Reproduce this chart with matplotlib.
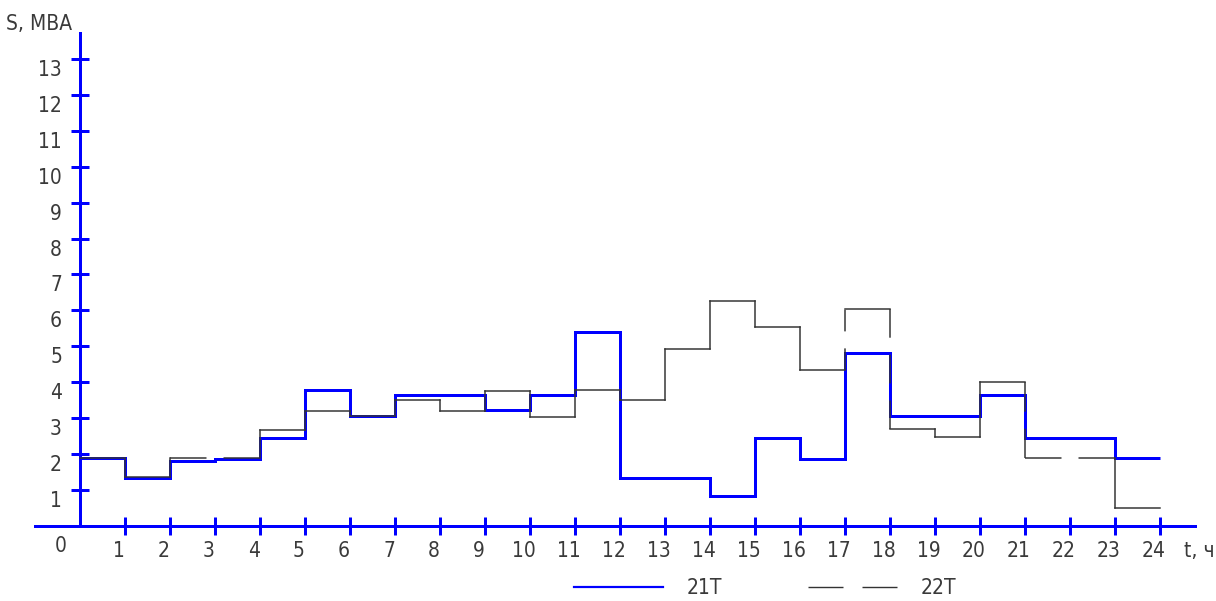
import matplotlib
matplotlib.use('Agg')
import matplotlib.pyplot as plt
from matplotlib.lines import Line2D
from matplotlib.transforms import ScaledTranslation

plt.rcParams['font.family'] = ['DejaVu Sans']
plt.rcParams['font.stretch'] = 'condensed'
plt.rcParams['lines.scale_dashes'] = False

# суточный график нагрузки трансформаторов, S (МВА) по часам
hours = list(range(25))
s_21t = [1.87, 1.33, 1.80, 1.85, 2.44, 3.77, 3.04, 3.63, 3.63, 3.21, 3.63, 5.40,
         1.32, 1.32, 0.82, 2.45, 1.86, 4.82, 3.05, 3.05, 3.63, 2.44, 2.44, 1.87]
s_22t = [1.88, 1.35, 1.88, 1.88, 2.66, 3.18, 3.04, 3.49, 3.18, 3.75, 3.03, 3.77,
         3.49, 4.91, 6.26, 5.53, 4.35, 6.03, 2.68, 2.47, 4.00, 1.87, 1.87, 0.49]
x_ticks = list(range(1, 25))
y_ticks = list(range(1, 14))

BLUE = '#0000ff'
GREY = '#333333'
TEXT = '#3a3a3a'
FS = 15

DPI = 100
W, H = 1216, 601
PT = 72 / DPI          # пиксели -> пункты

fig = plt.figure(figsize=(W / DPI, H / DPI), dpi=DPI)
ax = fig.add_axes([0, 0, 1, 1])
ax.patch.set_visible(False)

# масштаб: начало координат и шаг сетки в пикселях
X0, KX = 80.0, 45.0
Y0, KY = 525.5, 35.86
ax.set_xlim(-X0 / KX, (W - X0) / KX)
ax.set_ylim((Y0 - H) / KY, Y0 / KY)

# оси
for side in ('top', 'right'):
    ax.spines[side].set_visible(False)
for side in ('left', 'bottom'):
    ax.spines[side].set_position(('data', 0))
    ax.spines[side].set_color(BLUE)
    ax.spines[side].set_linewidth(3 * PT)
ax.spines['left'].set_bounds(0, (Y0 - 33) / KY)
ax.spines['bottom'].set_bounds((35 - X0) / KX, (1195 - X0) / KX)

ax.set_xticks(x_ticks)
ax.set_yticks(y_ticks)
ax.tick_params(direction='inout', length=18 * PT, width=3 * PT, color=BLUE,
               labelsize=FS, labelcolor=TEXT)
ax.tick_params(axis='x', pad=5)
ax.tick_params(axis='y', pad=6.5)

dx = ScaledTranslation(-6 / DPI, 0, fig.dpi_scale_trans)
for lab in ax.get_xticklabels():
    lab.set_transform(lab.get_transform() + dx)
dy = ScaledTranslation(0, -9 / DPI, fig.dpi_scale_trans)
for lab in ax.get_yticklabels():
    lab.set_transform(lab.get_transform() + dy)

ax.text(-0.44, -0.56, '0', fontsize=FS, color=TEXT, ha='center', va='center')
ax.text(39 / W, 1 - 24 / H, 'S, МВА', fontsize=FS, color=TEXT,
        ha='center', va='center', transform=fig.transFigure)
ax.text(1199 / W, 1 - 551 / H, 't, ч', fontsize=FS, color=TEXT,
        ha='center', va='center', transform=fig.transFigure)

# 21Т - сплошная линия
ax.stairs(s_21t, hours, baseline=None, color=BLUE, lw=3 * PT, zorder=3)


def step_corners(edges, values):
    pts = [(edges[0], values[0])]
    for i in range(1, len(values)):
        if values[i] != values[i - 1]:
            pts.append((edges[i], values[i - 1]))
            pts.append((edges[i], values[i]))
    pts.append((edges[-1], values[-1]))
    return pts


# 22Т - штриховая, каждый отрезок со своим разбиением на штрихи
GAP = 17.0
corners = step_corners(hours, s_22t)
for (xa, ya), (xb, yb) in zip(corners[:-1], corners[1:]):
    pa = ax.transData.transform((xa, ya))
    pb = ax.transData.transform((xb, yb))
    length = abs(pb[0] - pa[0]) + abs(pb[1] - pa[1])
    n = max(0, int((length - 5) // 50))
    if n == 0:
        ls = '-'
    else:
        dash = (length - n * GAP) / (n + 1)
        ls = (0, (dash * PT, GAP * PT))
    ax.plot([xa, xb], [ya, yb], color=GREY, lw=1.5 * PT, ls=ls,
            solid_capstyle='projecting', dash_capstyle='butt', zorder=4)

handles = [Line2D([], [], color=BLUE, lw=2.2 * PT),
           Line2D([], [], color=GREY, lw=1.4 * PT, ls=(0, (35 * PT, 19 * PT)))]
em = FS / PT
fig.legend(handles, ['21Т', '22Т'], ncol=2, frameon=False, fontsize=FS,
           labelcolor=TEXT, loc='center left',
           bbox_to_anchor=(574 / W, 1 - 588 / H), bbox_transform=fig.transFigure,
           borderpad=0, borderaxespad=0, handlelength=89 / em,
           handletextpad=24 / em, columnspacing=85 / em)

fig.savefig('out.png', dpi=DPI)
